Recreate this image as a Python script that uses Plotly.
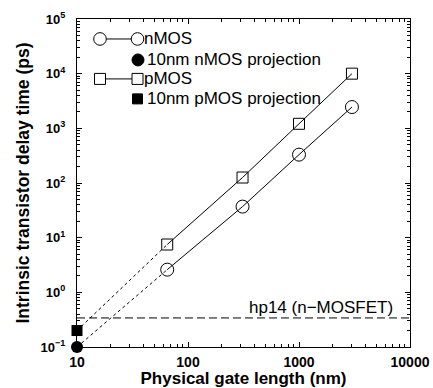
import math
import plotly.graph_objects as go

# ---- data ----
gate_nm = [65, 310, 1000, 3000]
nmos_ps = [2.6, 37, 330, 2450]
pmos_ps = [7.5, 126, 1210, 10000]
proj_gate_nm = [10]
nmos_proj_ps = [0.1]
pmos_proj_ps = [0.2]
hp14_ps = 0.34
hp14_label = "hp14 (n\u2212MOSFET)"
x_tick_vals = [10, 100, 1000, 10000]
x_tick_text = ["10", "100", "1000", "10000"]
y_tick_vals = [0.1, 1, 10, 100, 1000, 10000, 100000]
y_tick_text = ["10<sup>\u22121</sup>", "10<sup>0</sup>", "10<sup>1</sup>", "10<sup>2</sup>",
               "10<sup>3</sup>", "10<sup>4</sup>", "10<sup>5</sup>"]
legend_labels = ["nMOS", "10nm nMOS projection", "pMOS", "10nm pMOS projection"]

FONT = "Liberation Sans, Arial, sans-serif"
W, H = 433, 388
L, R, T, B = 77, 23, 19, 40.5
PW, PH = W - L - R, H - T - B

fig = go.Figure()

# dashed extrapolation to projections
for proj, meas in [(nmos_proj_ps, nmos_ps), (pmos_proj_ps, pmos_ps)]:
    fig.add_trace(go.Scatter(x=proj_gate_nm + gate_nm[:1], y=proj + meas[:1], mode="lines",
                             line=dict(color="black", width=1, dash="3px,3px"),
                             showlegend=False, hoverinfo="skip"))

# measured series
fig.add_trace(go.Scatter(x=gate_nm, y=nmos_ps, mode="lines+markers", name=legend_labels[0],
                         line=dict(color="black", width=1),
                         marker=dict(symbol="circle-open", size=13, color="black", line=dict(width=1)),
                         showlegend=False))
fig.add_trace(go.Scatter(x=gate_nm, y=pmos_ps, mode="lines+markers", name=legend_labels[2],
                         line=dict(color="black", width=1),
                         marker=dict(symbol="square-open", size=11, color="black", line=dict(width=1)),
                         showlegend=False))

# projections
fig.add_trace(go.Scatter(x=proj_gate_nm, y=nmos_proj_ps, mode="markers", name=legend_labels[1],
                         marker=dict(symbol="circle", size=12, color="black"), cliponaxis=False, showlegend=False))
fig.add_trace(go.Scatter(x=proj_gate_nm, y=pmos_proj_ps, mode="markers", name=legend_labels[3],
                         marker=dict(symbol="square", size=11, color="black"), cliponaxis=False, showlegend=False))

# hp14 line
fig.add_shape(type="line", xref="paper", x0=0, x1=1, yref="y", y0=hp14_ps, y1=hp14_ps,
              line=dict(color="black", width=1, dash="8px,4px"))
fig.add_annotation(x=1, xref="paper", y=math.log10(hp14_ps), yref="y", text=hp14_label, showarrow=False,
                   xanchor="right", yanchor="bottom", xshift=-15, yshift=-1,
                   font=dict(family=FONT, size=17, color="black"))

# ---- manual legend (layout decoration in paper coordinates) ----
def px2paper(x, y):
    return (x - L) / PW, (H - B - y) / PH

rows_y = [39, 60, 79, 99]
sym_x = [100, 137.5]

def marker_shape(kind, cx, cy, r, filled):
    xp, yp = px2paper(cx, cy)
    fig.add_shape(type=kind, xref="paper", yref="paper", xsizemode="pixel", ysizemode="pixel",
                  xanchor=xp, yanchor=yp, x0=-r, x1=r, y0=-r, y1=r,
                  line=dict(color="black", width=1), fillcolor="black" if filled else "white", layer="above")

for i, kind, r in [(0, "circle", 6.3), (2, "rect", 5.5)]:
    xa, ya = px2paper(sym_x[0], rows_y[i])
    xb, _ = px2paper(sym_x[1], rows_y[i])
    fig.add_shape(type="line", xref="paper", yref="paper", x0=xa, x1=xb, y0=ya, y1=ya,
                  line=dict(color="black", width=1), layer="above")
    marker_shape(kind, sym_x[0], rows_y[i], r, False)
    marker_shape(kind, sym_x[1], rows_y[i], r, False)
marker_shape("circle", 138, rows_y[1], 6, True)
marker_shape("rect", 137.5, rows_y[3], 5, True)

text_x = [142, 145, 142, 145]
for lab, tx, ty in zip(legend_labels, text_x, rows_y):
    xp, yp = px2paper(tx, ty)
    fig.add_annotation(x=xp, y=yp, xref="paper", yref="paper", text=lab, showarrow=False,
                       xanchor="left", yanchor="middle", font=dict(family=FONT, size=17, color="black"))

axis_common = dict(type="log", showline=True, linecolor="black", linewidth=1, mirror="allticks",
                   ticks="inside", ticklen=5, tickcolor="black", showgrid=False, zeroline=False,
                   minor=dict(ticks="inside", ticklen=3, tickcolor="black", dtick="D1", showgrid=False))

fig.update_layout(
    width=W, height=H, margin=dict(l=L, r=R, t=T, b=B, autoexpand=False),
    paper_bgcolor="white", plot_bgcolor="white", showlegend=False,
    font=dict(family=FONT, color="black"),
    xaxis=dict(axis_common, range=[1, 4], tickvals=x_tick_vals, ticktext=x_tick_text,
               tickfont=dict(family=FONT, size=14, weight="bold"), ticklabelstandoff=2,
               title=dict(text="Physical gate length (nm)", standoff=0,
                          font=dict(family=FONT, size=17, weight="bold"))),
    yaxis=dict(axis_common, range=[-1, 5], tickvals=y_tick_vals, ticktext=y_tick_text,
               tickfont=dict(family=FONT, size=13, weight="bold"), ticklabelstandoff=8,
               title=dict(text="Intrinsic transistor delay time (ps)", standoff=6,
                          font=dict(family=FONT, size=17.5, weight="bold"))),
)

fig.write_html("out.html")
